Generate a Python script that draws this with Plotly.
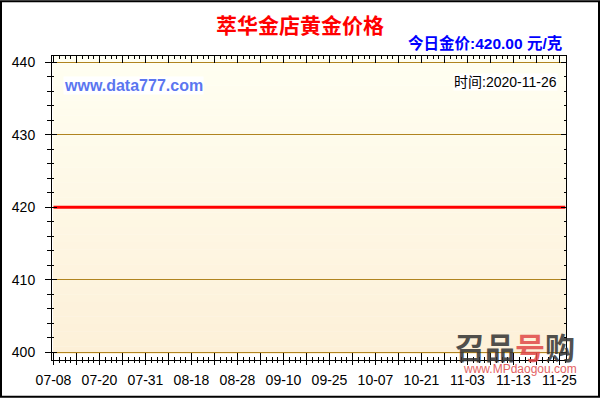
import plotly.graph_objects as go

# ---------------- data ----------------
tick_labels = ["07-08", "07-20", "07-31", "08-18", "08-28", "09-10",
               "09-25", "10-07", "10-21", "11-03", "11-13", "11-25"]
tick_index = [0, 8, 16, 24, 32, 40, 48, 56, 64, 72, 80, 88]
dates = ["07-08", "07-20", "07-31", "08-18", "08-28", "09-10", "09-25",
         "10-07", "10-21", "11-03", "11-13", "11-25", "11-26"]
point_index = [0, 8, 16, 24, 32, 40, 48, 56, 64, 72, 80, 88, 89]
prices = [420.00, 420.00, 420.00, 420.00, 420.00, 420.00, 420.00,
          420.00, 420.00, 420.00, 420.00, 420.00, 420.00]

title_text = "萃华金店黄金价格"
today_text = "今日金价:420.00 元/克"
time_text = "时间:2020-11-26"
site_text = "www.data777.com"

# ---------------- layout geometry ----------------
W, H = 600, 400
L, R, T, B = 52, 34, 56, 38
PW, PH = W - L - R, H - T - B

def px(x):
    return (x - L) / PW

def py(y):
    return (H - B - y) / PH

x_range = [-0.26, 89.13]
y_range = [398.95, 440.86]

FONT = "Liberation Sans, Arial, Noto Sans CJK SC, sans-serif"
CJK = "Noto Sans CJK SC, Liberation Sans, sans-serif"

fig = go.Figure()

fig.add_trace(go.Scatter(
    x=point_index, y=prices, mode="lines",
    line=dict(color="#ff0000", width=3),
    hoverinfo="skip", showlegend=False))

# invisible trace for overlay axes
fig.add_trace(go.Scatter(x=[point_index[0]], y=[prices[0]], xaxis="x2", yaxis="y2",
                         mode="markers", marker=dict(opacity=0), showlegend=False,
                         hoverinfo="skip"))

# background gradient bands
shapes = []
n = 40
top_c = (255, 255, 242)
bot_c = (253, 240, 216)
y0f = (H - B - 356) / PH
for i in range(n):
    f0 = y0f + (1 - y0f) * i / n
    f1 = y0f + (1 - y0f) * (i + 1) / n
    t = (i + 0.5) / n
    c = tuple(round(bot_c[k] + (top_c[k] - bot_c[k]) * t) for k in range(3))
    shapes.append(dict(type="rect", xref="x domain", yref="y domain",
                       x0=0.002, x1=1, y0=f0, y1=f1 + 0.001,
                       fillcolor="rgb(%d,%d,%d)" % c, line=dict(width=0),
                       layer="below"))
# outer frame
shapes.append(dict(type="rect", xref="paper", yref="paper",
                   x0=px(1), x1=px(599), y0=py(399), y1=py(1),
                   line=dict(color="#000000", width=2), fillcolor="rgba(0,0,0,0)",
                   layer="above"))

major_x = list(range(0, 90, 4))
major_text = [tick_labels[tick_index.index(v)] if v in tick_index else "" for v in major_x]

fig.update_layout(
    width=W, height=H,
    margin=dict(l=L, r=R, t=T, b=B, pad=0),
    paper_bgcolor="#ffffff", plot_bgcolor="#ffffff",
    showlegend=False,
    shapes=shapes,
    xaxis=dict(range=x_range, tickmode="array", tickvals=major_x, ticktext=major_text,
               ticks="outside", ticklen=4, tickcolor="#000", tickwidth=1,
               minor=dict(dtick=1, tick0=0, ticks="outside", ticklen=2, tickcolor="#000"),
               showline=True, linecolor="#000", linewidth=1, showgrid=False,
               zeroline=False, tickfont=dict(family=FONT, size=14, color="#000"),
               ticklabelstandoff=3),
    xaxis2=dict(range=x_range, overlaying="x", anchor="y", side="bottom",
                tickmode="array", tickvals=major_x, ticks="inside", ticklen=7,
                tickcolor="#000",
                minor=dict(dtick=1, tick0=0, ticks="inside", ticklen=3, tickcolor="#000"),
                showline=True, linecolor="#000", linewidth=1, mirror="ticks",
                showgrid=False, zeroline=False, showticklabels=False),
    yaxis=dict(range=y_range, tickmode="linear", tick0=400, dtick=10,
               ticks="outside", ticklen=6, tickcolor="#000",
               minor=dict(dtick=2, tick0=400, ticks="outside", ticklen=4, tickcolor="#000"),
               showline=True, linecolor="#000", linewidth=1,
               showgrid=True, gridcolor="#b08420", gridwidth=1, zeroline=False,
               tickfont=dict(family=FONT, size=14, color="#000"),
               ticklabelstandoff=7),
    yaxis2=dict(range=y_range, overlaying="y", anchor="x", side="left",
                tickmode="linear", tick0=400, dtick=10, ticks="inside", ticklen=5,
                tickcolor="#000",
                minor=dict(dtick=2, tick0=400, ticks="inside", ticklen=2, tickcolor="#000"),
                showline=True, linecolor="#000", linewidth=1, mirror="ticks",
                showgrid=False, zeroline=False, showticklabels=False),
)

ann = [
    dict(text="<b>%s</b>" % title_text, x=px(300), y=py(24), xanchor="center", yanchor="middle",
         font=dict(family=CJK, size=21, color="#ff0000")),
    dict(text="<b>%s</b>" % today_text, x=px(564), y=py(43), xanchor="right", yanchor="middle",
         font=dict(family=FONT, size=15.5, color="#0000ff")),
    dict(text="<b>%s</b>" % site_text, x=px(63), y=py(86), xanchor="left", yanchor="middle",
         font=dict(family=FONT, size=16, color="#5b76f0"), bgcolor="#ffffff", borderpad=0),
    dict(text=time_text, x=px(558), y=py(82), xanchor="right", yanchor="middle",
         font=dict(family=FONT, size=14, color="#000"), bgcolor="#ffffff", borderpad=0),
    dict(text="<b>召品<span style='color:#e04848'>号</span>购</b>", x=px(515), y=py(348),
         xanchor="center", yanchor="middle", opacity=0.85,
         font=dict(family=CJK, size=30, color="#333333")),
    dict(text="www.MPdaogou.com", x=px(520), y=py(371), xanchor="center", yanchor="middle",
         opacity=0.85, font=dict(family=FONT, size=12, color="#e04848")),
]
for a in ann:
    a.update(xref="paper", yref="paper", showarrow=False)
fig.update_layout(annotations=ann)

fig.write_html("out.html", config={"displayModeBar": False},
               post_script="document.body.style.margin='0px';document.body.style.padding='0px';")
